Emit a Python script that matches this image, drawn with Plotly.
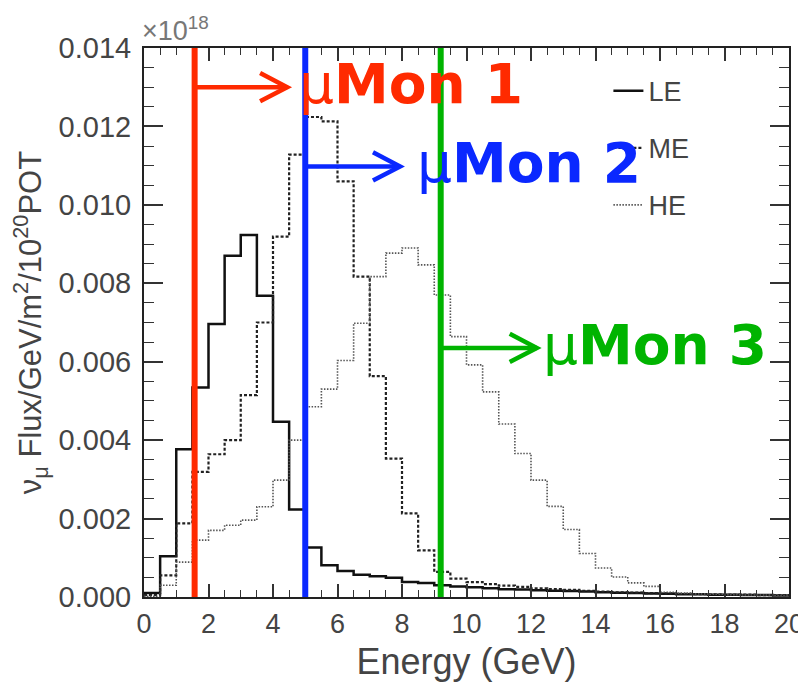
import plotly.graph_objects as go

# ---------------- data ----------------
bin_edges = [i * 0.5 for i in range(41)]  # 0 .. 20 GeV, 0.5 GeV bins

le_flux = [0.0001, 0.00104, 0.00377, 0.00534, 0.00696, 0.0087, 0.00923, 0.00768,
           0.00447, 0.00223, 0.00126, 0.00081, 0.00066, 0.00057, 0.00053, 0.00049,
           0.00038, 0.00036, 0.0003, 0.00027, 0.00025, 0.00022, 0.0002, 0.00019,
           0.00017, 0.00016, 0.00015, 0.00014, 0.00012, 0.00011, 0.0001, 0.00009,
           0.00008, 0.00007, 0.00007, 0.00006, 0.00006, 0.00005, 0.00005, 0.00004]

me_flux = [0.00005, 0.00055, 0.00188, 0.00319, 0.00364, 0.0040, 0.00515, 0.0070,
           0.00919, 0.01128, 0.01224, 0.01213, 0.0106, 0.00817, 0.00563, 0.00353,
           0.00213, 0.00119, 0.00064, 0.00047, 0.00038, 0.00033, 0.00029, 0.00026,
           0.00022, 0.0002, 0.00018, 0.00016, 0.00014, 0.00012, 0.00011, 0.0001,
           0.00009, 0.00008, 0.00007, 0.00007, 0.00006, 0.00006, 0.00005, 0.00005]

he_flux = [0.00002, 0.0003, 0.00089, 0.00145, 0.0017, 0.00183, 0.00196, 0.0023,
           0.00298, 0.0040, 0.00485, 0.0053, 0.00603, 0.00698, 0.00817, 0.00877,
           0.0089, 0.00847, 0.0077, 0.00664, 0.00592, 0.00523, 0.00441, 0.00366,
           0.00298, 0.00231, 0.00172, 0.00111, 0.00074, 0.00051, 0.00036, 0.00027,
           0.00012, 0.0001, 0.00008, 0.00007, 0.00006, 0.00005, 0.00005, 0.00004]

series_names = ["LE", "ME", "HE"]

monitor_names = ["1", "2", "3"]
monitor_energy = [1.57, 5.0, 9.2]          # GeV position of the vertical markers
monitor_arrow_y = [0.0130, 0.01098, 0.00635]
monitor_arrow_tip = [4.44, 7.94, 12.18]
monitor_text_x = [4.75, 8.40, 12.30]
monitor_colors = ["#ff2a00", "#0a28ff", "#00b400"]

x_ticks = list(range(0, 21, 2))

# ---------------- figure ----------------
fig = go.Figure()

def step_xy(vals):
    xs = bin_edges[:]
    ys = list(vals) + [vals[-1]]
    return xs, ys

styles = [
    dict(color="#111111", width=2.5, dash="solid"),
    dict(color="#222222", width=2.2, dash="3px,2px"),
    dict(color="#555555", width=1.6, dash="1.5px,1.5px"),
]

for i, (name, vals) in enumerate(zip(series_names, [le_flux, me_flux, he_flux])):
    xs, ys = step_xy(vals)
    fig.add_trace(go.Scatter(
        x=xs, y=ys, mode="lines", name=name,
        line=dict(shape="hv", **styles[i]),
        legendgroup=name, showlegend=True,
    ))

shapes = []
annotations = []
for name, ex, ay, tip, tx, col in zip(monitor_names, monitor_energy, monitor_arrow_y,
                                       monitor_arrow_tip, monitor_text_x, monitor_colors):
    shapes.append(dict(type="line", xref="x", yref="y", x0=ex, x1=ex, y0=0, y1=0.014,
                       line=dict(color=col, width=6), layer="above"))
    shapes.append(dict(type="line", xref="x", yref="y", x0=ex, x1=tip, y0=ay, y1=ay,
                       line=dict(color=col, width=4.5), layer="above"))
    dx, dy = 0.84, 0.00036
    shapes.append(dict(type="path", xref="x", yref="y",
                       path=f"M {tip-dx},{ay+dy} L {tip},{ay} L {tip-dx},{ay-dy}",
                       line=dict(color=col, width=4.5), layer="above"))
    annotations.append(dict(
        x=tx, y=ay, xref="x", yref="y", xanchor="left", yanchor="middle", yshift=3,
        text=f"μ<b>Mon {name}</b>", showarrow=False,
        font=dict(family="DejaVu Sans", size=55, color=col),
    ))

annotations.append(dict(
    x=0, y=1.0, xref="paper", yref="paper", xanchor="left", yanchor="bottom",
    xshift=-4, yshift=0, text="×10<sup>18</sup>", showarrow=False,
    font=dict(family="Liberation Sans", size=27, color="#777777"),
))

axis_common = dict(
    showgrid=False, zeroline=False, showline=True, linecolor="#222222", linewidth=2,
    mirror="allticks", ticks="inside", tickcolor="#333333", tickwidth=1.5,
    automargin=False,
)

fig.update_layout(
    width=798, height=677,
    margin=dict(l=136, r=17, t=40, b=88),
    paper_bgcolor="white", plot_bgcolor="white",
    shapes=shapes, annotations=annotations,
    xaxis=dict(range=[0, 20], tickvals=x_ticks, ticklen=13, ticklabelstandoff=2,
               tickfont=dict(family="Liberation Sans", size=27, color="#444444"),
               minor=dict(dtick=0.5, ticklen=7, ticks="inside", tickcolor="#333333", tickwidth=1.2),
               title=dict(text="Energy (GeV)", standoff=10,
                          font=dict(family="Liberation Sans", size=36, color="#444444")),
               **axis_common),
    yaxis=dict(range=[0, 0.014], dtick=0.002, tickformat=".3f", ticklen=19, ticklabelstandoff=5,
               tickfont=dict(family="Liberation Sans", size=29, color="#444444"),
               minor=dict(dtick=0.0005, ticklen=10, ticks="inside", tickcolor="#333333", tickwidth=1.2),
               title=dict(text="ν<sub>μ</sub> Flux/GeV/m<sup>2</sup>/10<sup>20</sup>POT", standoff=12,
                          font=dict(family="Liberation Sans", size=31, color="#444444")),
               **axis_common),
    legend=dict(x=0.72, y=0.966, xanchor="left", yanchor="top",
                bgcolor="rgba(0,0,0,0)", itemwidth=30, tracegroupgap=19,
                font=dict(family="Liberation Sans", size=27, color="#444444")),
    showlegend=True,
)

fig.write_html("out.html")
